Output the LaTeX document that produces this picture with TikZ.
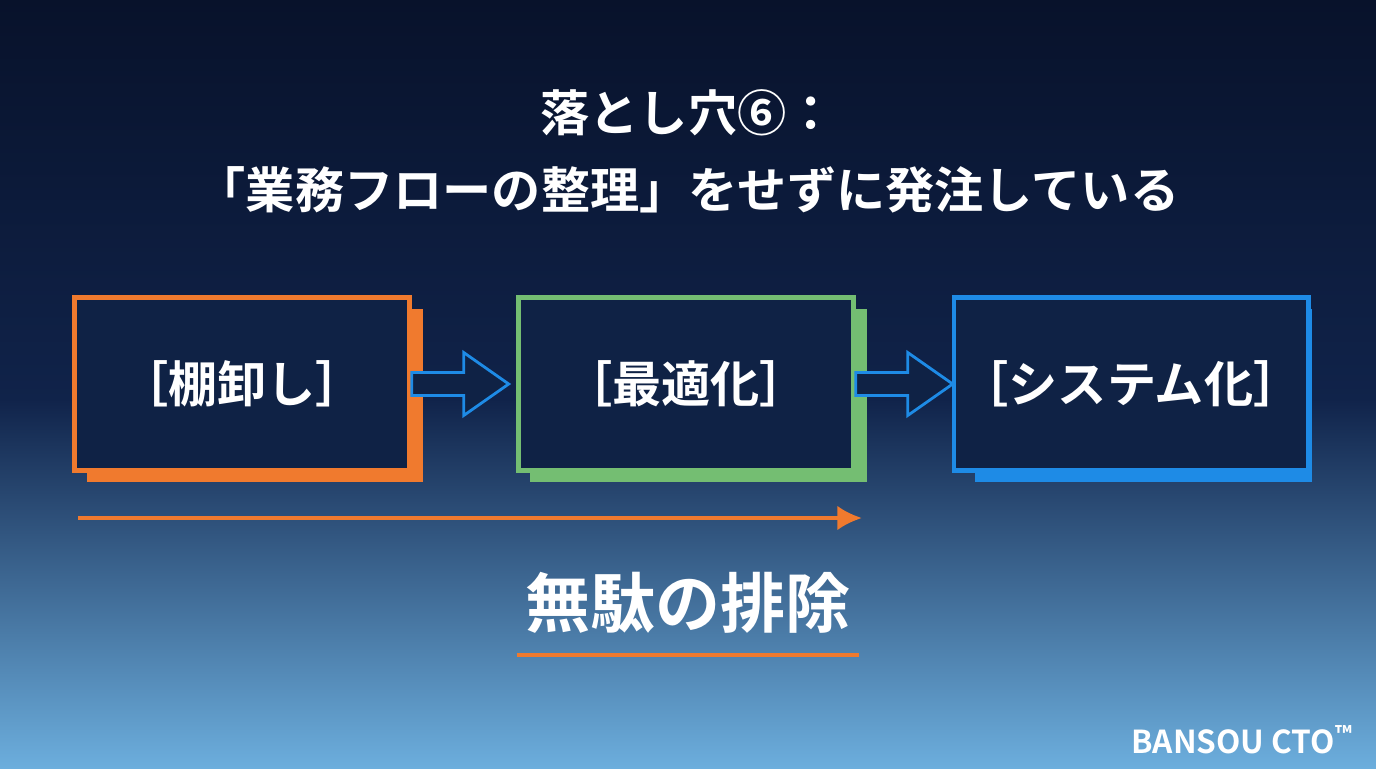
\documentclass[tikz,border=0pt]{standalone}
\usepackage{fontspec}
\setmainfont{Noto Sans CJK JP}[BoldFont={Noto Sans CJK JP Bold}]
\usetikzlibrary{positioning,arrows.meta}
\definecolor{navytop}{HTML}{08122B}
\definecolor{navymid}{HTML}{10234A}
\definecolor{skybot}{HTML}{6CAEDD}
\definecolor{boxfill}{HTML}{0F2245}
\definecolor{cOrange}{HTML}{F07A2E}
\definecolor{cGreen}{HTML}{74BE72}
\definecolor{cBlue}{HTML}{1E8BE6}
\tikzset{
  stepbox/.style={draw=#1, line width=2.5pt, fill=boxfill, minimum width=335*0.02cm,
    minimum height=173*0.02cm, text=white, font=\bfseries\fontsize{28}{32}\selectfont},
  hollowarrow/.style={draw=cBlue, line width=1.6pt, fill=boxfill, line join=miter}
}
\begin{document}
\begin{tikzpicture}[x=0.02cm,y=-0.02cm]
% background
\shade[top color=navytop, bottom color=navymid] (0,0) rectangle (1376,400);
\shade[top color=navymid, bottom color=skybot] (0,399) rectangle (1376,768);
\useasboundingbox (0,0) rectangle (1376,768);
% title
\node (title1) at (688,113) [text=white, font=\bfseries\fontsize{28}{32}\selectfont] {落とし穴⑥：};
\node (title2) at (688,190) [text=white, font=\bfseries\fontsize{28}{32}\selectfont] {「業務フローの整理」をせずに発注している};
% shadows
\fill[cOrange] (87,309) rectangle (423,482);
\fill[cGreen] (530,309) rectangle (867,482);
\fill[cBlue] (975,309) rectangle (1312,482);
% boxes
\node (tana) at (242,384) [stepbox=cOrange] {［棚卸し］};
\node (opt) at (686,384) [stepbox=cGreen] {［最適化］};
\node (sys) at (1131,384) [stepbox=cBlue] {［システム化］};
% arrows
\draw[hollowarrow] (tana.east) ++(0,-11.5) -- ++(52,0) -- ++(0,-20) -- ++(45,31.5)
  -- ++(-45,31.5) -- ++(0,-20) -- ++(-52,0) -- cycle;
\draw[hollowarrow] (opt.east) ++(0,-11.5) -- ++(52,0) -- ++(0,-20) -- ++(45,31.5)
  -- ++(-45,31.5) -- ++(0,-20) -- ++(-52,0) -- cycle;
% waste bar
\coordinate (w1) at (78,518);
\coordinate (w2) at (862,518);
\draw[cOrange, line width=2.2pt, -{Latex[length=14pt,width=14pt]}] (w1) -- (w2);
\node (waste) at (688,603) [text=white, font=\bfseries\fontsize{37}{40}\selectfont] {無駄の排除};
\coordinate (u1) at (517,655);
\coordinate (u2) at (859,655);
\draw[cOrange, line width=2pt] (u1) -- (u2);
% logo
\node (logo) at (1242,740) [text=white, font=\bfseries\fontsize{18}{20}\selectfont] {BANSOU CTO\textsuperscript{™}};
\end{tikzpicture}
\end{document}
